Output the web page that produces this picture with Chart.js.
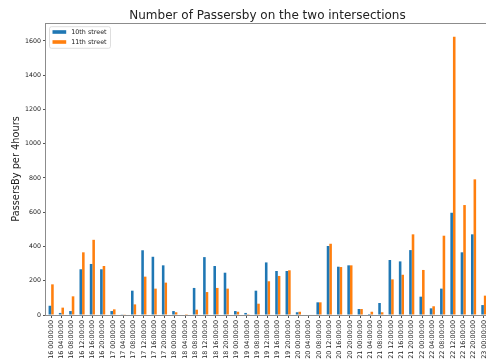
<!DOCTYPE html>
<html>
<head>
<meta charset="utf-8">
<script src="https://cdn.jsdelivr.net/npm/chart.js@4.4.1/dist/chart.umd.min.js"></script>
<style>
  html, body { margin: 0; padding: 0; background: #fff; overflow: hidden; }
  #wrap { position: absolute; left: 0; top: 0; width: 500px; height: 364px; }
</style>
</head>
<body>
<div id="wrap"><canvas id="c"></canvas></div>
<script>
// Four-hour time slots, 16th to 23rd
const timeSlots = [
  "16 00:00:00","16 04:00:00","16 08:00:00","16 12:00:00","16 16:00:00","16 20:00:00",
  "17 00:00:00","17 04:00:00","17 08:00:00","17 12:00:00","17 16:00:00","17 20:00:00",
  "18 00:00:00","18 04:00:00","18 08:00:00","18 12:00:00","18 16:00:00","18 20:00:00",
  "19 00:00:00","19 04:00:00","19 08:00:00","19 12:00:00","19 16:00:00","19 20:00:00",
  "20 00:00:00","20 04:00:00","20 08:00:00","20 12:00:00","20 16:00:00","20 20:00:00",
  "21 00:00:00","21 04:00:00","21 08:00:00","21 12:00:00","21 16:00:00","21 20:00:00",
  "22 00:00:00","22 04:00:00","22 08:00:00","22 12:00:00","22 16:00:00","22 20:00:00",
  "23 00:00:00"
];

// Passersby counts per 4-hour slot
const tenthStreet = [
  54, 12, 23, 267, 298, 267,
  23, 4, 142, 378, 340, 290,
  23, 3, 158, 338, 286, 247,
  23, 12, 142, 307, 257, 257,
  16, 3, 74, 403, 282, 290,
  35, 6, 70, 321, 313, 379,
  107, 39, 154, 597, 366, 471,
  58
];
const eleventhStreet = [
  179, 43, 109, 366, 439, 286,
  33, 4, 62, 224, 154, 189,
  16, 5, 31, 134, 158, 154,
  19, 1, 66, 197, 228, 261,
  19, 3, 74, 416, 280, 290,
  35, 19, 16, 208, 235, 471,
  263, 51, 463, 1624, 642, 792,
  113
];

const seriesNames = ["10th street", "11th street"];
const yTicks = [0, 200, 400, 600, 800, 1000, 1200, 1400, 1600];
const titleText = "Number of Passersby on the two intersections";
const yLabel = "PassersBy per 4hours";

const FONT = "'DejaVu Sans', sans-serif";
const TEXT = "#222";
const SPINE = "#8c8c8c";

// Title centred over the plot area, axes frame, and an in-plot legend
const decorations = {
  id: "decorations",
  afterDraw(chart) {
    const { ctx, chartArea: a } = chart;
    ctx.save();
    // frame
    ctx.strokeStyle = SPINE;
    ctx.lineWidth = 1;
    ctx.strokeRect(Math.round(a.left) - 0.5, Math.round(a.top) + 0.5,
                   Math.round(a.right - a.left) + 1, Math.round(a.bottom - a.top));
    // title
    ctx.fillStyle = TEXT;
    ctx.font = "12px " + FONT;
    ctx.textAlign = "center";
    ctx.textBaseline = "alphabetic";
    ctx.fillText(titleText, (a.left + a.right) / 2, 18.8);
    // legend
    const bx = a.left + 3.5, by = a.top + 3.7, bw = 61, bh = 21.6, r = 2;
    ctx.beginPath();
    ctx.moveTo(bx + r, by);
    ctx.arcTo(bx + bw, by, bx + bw, by + bh, r);
    ctx.arcTo(bx + bw, by + bh, bx, by + bh, r);
    ctx.arcTo(bx, by + bh, bx, by, r);
    ctx.arcTo(bx, by, bx + bw, by, r);
    ctx.closePath();
    ctx.fillStyle = "rgba(255,255,255,0.8)";
    ctx.fill();
    ctx.strokeStyle = "#d6d6d6";
    ctx.lineWidth = 0.8;
    ctx.stroke();
    ctx.font = "6.4px " + FONT;
    ctx.textAlign = "left";
    ctx.textBaseline = "middle";
    chart.data.datasets.forEach((ds, i) => {
      const cy = by + 5.3 + i * 10;
      ctx.fillStyle = ds.backgroundColor;
      ctx.fillRect(bx + 3, cy - 1.8, 13.7, 3.6);
      ctx.fillStyle = TEXT;
      ctx.fillText(ds.label, bx + 21.7, cy);
    });
    ctx.restore();
  }
};

new Chart(document.getElementById("c"), {
  type: "bar",
  data: {
    labels: timeSlots,
    datasets: [
      { label: seriesNames[0], data: tenthStreet, backgroundColor: "#1f77b4", borderWidth: 0 },
      { label: seriesNames[1], data: eleventhStreet, backgroundColor: "#ff7f0e", borderWidth: 0 }
    ]
  },
  options: {
    responsive: true,
    maintainAspectRatio: false,
    animation: false,
    events: [],
    layout: { padding: { left: 0, top: 23, right: 11, bottom: 0 } },
    datasets: { bar: { categoryPercentage: 0.5, barPercentage: 1.0 } },
    plugins: { legend: { display: false }, title: { display: false }, tooltip: { enabled: false } },
    scales: {
      x: {
        offset: true,
        afterFit(scale) { scale.height = 49; },
        grid: { display: true, drawOnChartArea: false, drawTicks: true, tickLength: 3, color: "#555", offset: false },
        border: { display: false },
        ticks: {
          autoSkip: false, minRotation: 90, maxRotation: 90, padding: 2,
          color: TEXT, font: { family: FONT, size: 6.4 }
        }
      },
      y: {
        min: 0,
        max: 1705,
        afterFit(scale) { scale.width = 46; },
        afterBuildTicks(scale) { scale.ticks = yTicks.map(v => ({ value: v })); },
        grid: { display: true, drawOnChartArea: false, drawTicks: true, tickLength: 3, color: "#555" },
        border: { display: false },
        ticks: {
          padding: 2, color: TEXT, font: { family: FONT, size: 6.3 },
          callback: (v) => String(v)
        },
        title: {
          display: true, text: yLabel, color: TEXT,
          font: { family: FONT, size: 9.8 }, padding: { top: 10.5, bottom: 0 }
        }
      }
    }
  },
  plugins: [decorations]
});
</script>
</body>
</html>
